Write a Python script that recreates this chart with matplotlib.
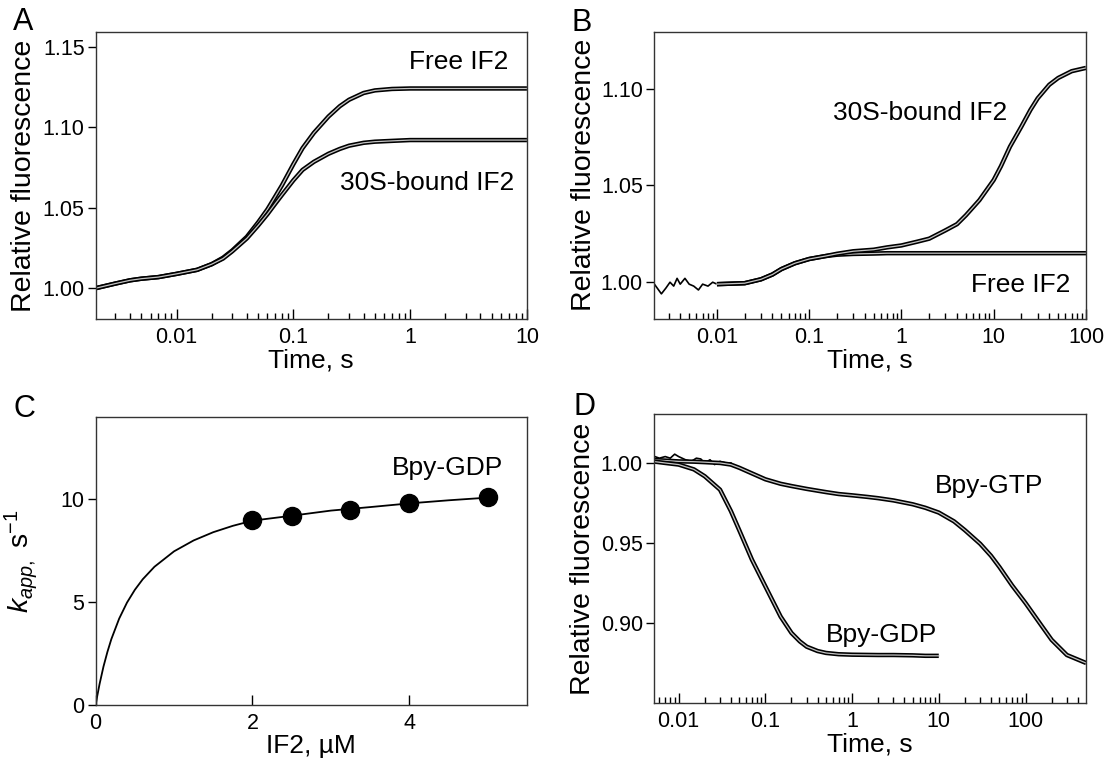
import matplotlib
matplotlib.use('Agg')
import matplotlib.pyplot as plt
from matplotlib.ticker import LogLocator, FuncFormatter, NullFormatter, FixedLocator

plt.rcParams['font.family'] = ['Liberation Sans', 'DejaVu Sans']
plt.rcParams['mathtext.fontset'] = 'custom'
plt.rcParams['mathtext.rm'] = 'Liberation Sans'
plt.rcParams['mathtext.it'] = 'Liberation Sans:italic'

# panel A: fluorescence vs time
a_time = [0.002, 0.003, 0.004, 0.005, 0.007, 0.01, 0.015, 0.02, 0.025, 0.03, 0.04, 0.05,
          0.06, 0.07, 0.08, 0.1, 0.12, 0.15, 0.2, 0.25, 0.3, 0.4, 0.5, 0.7, 1, 2, 5, 10]
a_free = [1.000, 1.003, 1.005, 1.006, 1.007, 1.009, 1.0115, 1.015, 1.019, 1.0235, 1.032, 1.041,
          1.049, 1.057, 1.064, 1.077, 1.087, 1.0965, 1.1066, 1.113, 1.117, 1.1212, 1.1228,
          1.1237, 1.124, 1.124, 1.124, 1.124]
a_30s = [1.000, 1.003, 1.005, 1.006, 1.007, 1.009, 1.0115, 1.015, 1.0185, 1.023, 1.031, 1.039,
         1.046, 1.0525, 1.058, 1.067, 1.0735, 1.0785, 1.0835, 1.0865, 1.0885, 1.0903, 1.091,
         1.0915, 1.092, 1.092, 1.092, 1.092]

# panel B
b_time = [0.01, 0.02, 0.03, 0.04, 0.05, 0.07, 0.1, 0.15, 0.2, 0.3, 0.5, 0.7, 1, 1.5, 2, 3,
          4, 5, 7, 10, 12, 15, 20, 25, 30, 40, 50, 70, 100]
b_30s = [0.999, 0.9995, 1.0015, 1.004, 1.0068, 1.0098, 1.012, 1.0135, 1.0147, 1.016, 1.0168,
         1.018, 1.019, 1.021, 1.0225, 1.0268, 1.030, 1.0346, 1.0424, 1.0528, 1.060, 1.070,
         1.0805, 1.089, 1.095, 1.102, 1.1055, 1.109, 1.1107]
b_free = [0.999, 0.9995, 1.0015, 1.004, 1.0068, 1.0098, 1.012, 1.0135, 1.0142, 1.0146, 1.0148,
          1.015, 1.015, 1.015, 1.015, 1.015, 1.015, 1.015, 1.015, 1.015, 1.015, 1.015,
          1.015, 1.015, 1.015, 1.015, 1.015, 1.015, 1.015]
b_early_t = [0.0021, 0.0025, 0.0028, 0.0031, 0.0034, 0.0037, 0.004, 0.0045, 0.005, 0.0056,
             0.0063, 0.007, 0.008, 0.009, 0.01]
b_early_y = [0.999, 0.994, 0.997, 1.000, 0.998, 1.002, 0.999, 1.002, 0.999, 0.998,
             0.996, 0.999, 0.998, 1.000, 0.999]

# panel C: k_app vs IF2
c_conc = [2, 2.5, 3.25, 4, 5]
c_kapp = [8.97, 9.17, 9.46, 9.8, 10.1]
c_fit_x = [0, 0.02, 0.05, 0.1, 0.15, 0.2, 0.3, 0.4, 0.5, 0.6, 0.75, 1, 1.25, 1.5, 1.75, 2,
           2.5, 3, 3.5, 4, 4.5, 5]
c_fit_y = [0, 0.43, 1.02, 1.87, 2.58, 3.2, 4.2, 4.98, 5.6, 6.11, 6.72, 7.47, 8.0, 8.4, 8.71,
           8.96, 9.2, 9.45, 9.62, 9.8, 9.95, 10.08]

# panel D
d_time = [0.005, 0.007, 0.01, 0.015, 0.02, 0.03, 0.04, 0.05, 0.07, 0.1, 0.15, 0.2, 0.3, 0.5,
          0.7, 1, 1.5, 2, 3, 5, 7, 10, 15, 20, 30, 40, 50, 70, 100, 150, 200, 300, 500]
d_gtp = [1.002, 1.0015, 1.001, 1.0008, 1.0005, 1.000, 0.999, 0.997, 0.9935, 0.9898, 0.987,
         0.9856, 0.9838, 0.9818, 0.9806, 0.9798, 0.9788, 0.978, 0.9766, 0.9742, 0.972, 0.969,
         0.9635, 0.958, 0.9495, 0.942, 0.935, 0.9235, 0.9125, 0.899, 0.8895, 0.880, 0.875]
d_gdp_t = [0.005, 0.007, 0.01, 0.015, 0.02, 0.03, 0.04, 0.05, 0.07, 0.1, 0.15, 0.2, 0.25, 0.3,
           0.4, 0.5, 0.7, 1, 2, 3, 5, 7, 10]
d_gdp = [1.001, 1.000, 0.999, 0.996, 0.9917, 0.9833, 0.970, 0.958, 0.9396, 0.9229, 0.904,
         0.8938, 0.8885, 0.8852, 0.8825, 0.8813, 0.8805, 0.8802, 0.880, 0.880, 0.8798,
         0.8795, 0.8795]
d_early_t = [0.005, 0.006, 0.007, 0.008, 0.009, 0.01, 0.012, 0.014, 0.016, 0.018, 0.02,
             0.023, 0.026, 0.03, 0.035, 0.04]
d_early_y = [1.0045, 1.003, 1.004, 1.003, 1.0055, 1.004, 1.002, 1.001, 1.003, 1.0025, 1.000,
             1.002, 0.999, 1.001, 1.000, 1.000]

TICK = 15.5
LAB_X = 19
LAB_Y = 20.5
TXT = 19
FIT = '#c4c4c4'
W, H = 1107, 763


def style_axes(ax):
    for s in ax.spines.values():
        s.set_linewidth(1.0)
        s.set_color('#333333')
    ax.tick_params(axis='x', which='major', direction='in', length=7, width=1,
                   labelsize=TICK, pad=6)
    ax.tick_params(axis='x', which='minor', direction='in', length=4, width=1)
    ax.tick_params(axis='y', which='major', direction='out', length=6, width=1,
                   labelsize=TICK, pad=2)
    ax.tick_params(axis='y', which='minor', length=0)


def log_x(ax, lo, hi):
    ax.set_xscale('log')
    ax.set_xlim(lo, hi)
    ax.xaxis.set_major_locator(LogLocator(base=10))
    ax.xaxis.set_minor_locator(LogLocator(base=10, subs=range(2, 10)))
    ax.xaxis.set_major_formatter(FuncFormatter(lambda v, p: '%g' % v))
    ax.xaxis.set_minor_formatter(NullFormatter())


def trace(ax, t, y):
    ax.plot(t, y, color='black', lw=3.2, solid_capstyle='butt')
    ax.plot(t, y, color=FIT, lw=0.9)


fig = plt.figure(figsize=(11.07, 7.63), dpi=100)
axA = fig.add_axes([0.0864, 0.5819, 0.3896, 0.3761])
axB = fig.add_axes([0.5908, 0.5819, 0.3902, 0.3768])
axC = fig.add_axes([0.0864, 0.0760, 0.3896, 0.3775])
axD = fig.add_axes([0.5908, 0.0786, 0.3902, 0.3788])

# A
trace(axA, a_time, a_free)
trace(axA, a_time, a_30s)
log_x(axA, 0.00203, 10)
axA.set_ylim(0.981, 1.159)
axA.yaxis.set_major_locator(FixedLocator([1.00, 1.05, 1.10, 1.15]))
axA.yaxis.set_major_formatter(FuncFormatter(lambda v, p: '%.2f' % v))
style_axes(axA)

# B
axB.plot(b_early_t, b_early_y, color='black', lw=1.2)
trace(axB, b_time, b_free)
trace(axB, b_time, b_30s)
log_x(axB, 0.00208, 100)
axB.set_ylim(0.981, 1.1295)
axB.yaxis.set_major_locator(FixedLocator([1.00, 1.05, 1.10]))
axB.yaxis.set_major_formatter(FuncFormatter(lambda v, p: '%.2f' % v))
style_axes(axB)

# C
axC.plot(c_fit_x, c_fit_y, color='black', lw=1.3)
axC.plot(c_conc, c_kapp, 'o', color='black', ms=13)
axC.set_xlim(0, 5.5)
axC.set_ylim(0, 14)
axC.xaxis.set_major_locator(FixedLocator([0, 2, 4]))
axC.yaxis.set_major_locator(FixedLocator([0, 5, 10]))
style_axes(axC)

# D
axD.plot(d_early_t, d_early_y, color='black', lw=1.2)
trace(axD, d_time, d_gtp)
trace(axD, d_gdp_t, d_gdp)
log_x(axD, 0.0052, 498)
axD.set_ylim(0.85, 1.0306)
axD.yaxis.set_major_locator(FixedLocator([0.90, 0.95, 1.00]))
axD.yaxis.set_major_formatter(FuncFormatter(lambda v, p: '%.2f' % v))
style_axes(axD)

# axis labels
for ax in (axA, axB, axD):
    ax.set_xlabel('Time, s', fontsize=LAB_X, labelpad=0)
axC.set_xlabel('IF2, \u00b5M', fontsize=LAB_X, labelpad=0)
for ax, lx in ((axA, -0.136), (axB, -0.132), (axD, -0.135)):
    ax.set_ylabel('Relative fluorescence', fontsize=LAB_Y)
    ax.yaxis.set_label_coords(lx, 0.5)
axC.set_ylabel(r'$k_{app,}$ s$^{-1}$', fontsize=LAB_Y)
axC.yaxis.set_label_coords(-0.129, 0.5)


def note(x, y, s, size=TXT):
    fig.text(x / W, 1 - y / H, s, fontsize=size, ha='center', va='center')


note(459, 62, 'Free IF2')
note(427, 183, '30S-bound IF2')
note(920, 113, '30S-bound IF2')
note(1021, 285, 'Free IF2')
note(447, 468, 'Bpy-GDP')
note(989, 486, 'Bpy-GTP')
note(881, 635, 'Bpy-GDP')

for lab, x, y in [('A', 23, 22), ('B', 582, 23), ('C', 24, 409), ('D', 585, 407)]:
    note(x, y, lab, size=22)

fig.savefig('out.png', dpi=100)
